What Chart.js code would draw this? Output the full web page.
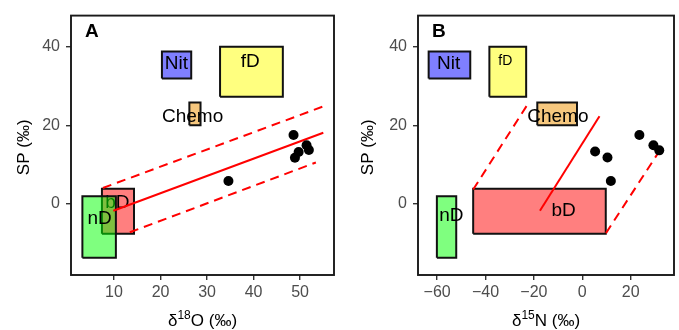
<!DOCTYPE html>
<html>
<head>
<meta charset="utf-8">
<script src="https://cdn.jsdelivr.net/npm/chart.js@4.4.1/dist/chart.umd.min.js"></script>
<style>
  html, body { margin: 0; padding: 0; background: #fff; overflow: hidden; }
  #wrapA { position: absolute; left: 0; top: 0; width: 340px; height: 330px; }
  #wrapB { position: absolute; left: 340px; top: 0; width: 339px; height: 330px; }
</style>
</head>
<body>
<div id="wrapA"><canvas id="chartA" width="340" height="330"></canvas></div>
<div id="wrapB"><canvas id="chartB" width="339" height="330"></canvas></div>
<script>
// Source boxes (same SP range in both panels)
const sources = ['Nit', 'fD', 'Chemo', 'bD', 'nD'];
const spMin = [31.9, 27.3, 20.0, -7.7, -13.8];
const spMax = [38.8, 40.0, 25.8, 3.8, 1.9];
const o18Min = [20.3, 32.8, 26.2, 7.4, 3.2];
const o18Max = [26.6, 46.3, 28.6, 14.3, 10.4];
const n15Min = [-63.5, -38.4, -18.6, -45.1, -60.1];
const n15Max = [-46.3, -23.2, -2.2, 9.7, -52.1];

// Label anchor points
const labelA_x = [23.4, 39.3, 26.9, 10.7, 6.9];
const labelA_y = [36.0, 36.5, 22.6, 0.7, -3.4];
const labelB_x = [-55.2, -31.8, -10.1, -7.7, -54.1];
const labelB_y = [36.2, 36.7, 22.6, -1.4, -2.8];

// Samples
const sampleA_x = [34.6, 48.6, 48.9, 49.7, 51.4, 51.9];
const sampleA_y = [5.8, 17.5, 11.7, 13.2, 14.9, 13.7];
const sampleB_x = [5.3, 10.4, 11.8, 23.6, 29.4, 31.8];
const sampleB_y = [13.3, 11.8, 5.8, 17.5, 14.9, 13.6];

// Fit lines [x0, y0, x1, y1]
const fitA = [9.85, -1.8, 55.0, 18.1];
const upperA = [7.6, 4.0, 55.0, 24.8];
const lowerA = [13.4, -7.3, 53.4, 10.5];
const fitB = [-17.5, -1.8, 7.1, 22.3];
const upperB = [-45.1, 3.6, -22.1, 25.8];
const lowerB = [9.8, -7.5, 32.8, 14.3];

// Ticks
const ticksA_x = [10, 20, 30, 40, 50];
const ticksB_x = [-60, -40, -20, 0, 20];
const ticksY = [0, 20, 40];

const boxColors = ['rgba(0,0,255,0.5)', 'rgba(255,255,0,0.5)', 'rgba(240,155,20,0.55)', 'rgba(255,0,0,0.5)', 'rgba(0,255,0,0.5)'];
const labelSizes = { A: [19, 19, 19, 19, 19], B: [19, 14, 19, 19, 19] };
const FONT = "'Liberation Sans', Arial, sans-serif";

function rect(x0, x1, y0, y1) {
    return [{x: x0, y: y0}, {x: x1, y: y0}, {x: x1, y: y1}, {x: x0, y: y1}, {x: x0, y: y0}];
}

function seg(s) {
    return [{x: s[0], y: s[1]}, {x: s[2], y: s[3]}];
}

function buildDatasets(xMin, xMax, lx, ly, sizes, sx, sy, fit, upper, lower) {
    const ds = [];
    sources.forEach((name, i) => {
        ds.push({
            type: 'line',
            data: rect(xMin[i], xMax[i], spMin[i], spMax[i]),
            borderColor: '#111',
            borderWidth: 2,
            backgroundColor: boxColors[i],
            fill: 'shape',
            pointRadius: 0,
            tension: 0,
            order: 8 - i,
            boxLabel: name,
            labelX: lx[i],
            labelY: ly[i],
            labelSize: sizes[i]
        });
    });
    [upper, lower].forEach((s, k) => {
        ds.push({
            type: 'line',
            data: seg(s),
            borderColor: '#ff0000',
            borderWidth: 2,
            borderDash: [9, 6],
            pointRadius: 0,
            fill: false,
            order: 3 - k
        });
    });
    ds.push({
        type: 'line',
        data: seg(fit),
        borderColor: '#ff0000',
        borderWidth: 2,
        pointRadius: 0,
        fill: false,
        order: 1
    });
    ds.push({
        type: 'scatter',
        data: sx.map((x, i) => ({x: x, y: sy[i]})),
        backgroundColor: '#000',
        borderWidth: 0,
        pointRadius: 5,
        order: 0
    });
    return ds;
}

const panelPlugin = {
    id: 'panelPlugin',
    afterDatasetDraw(chart, args) {
        const d = chart.data.datasets[args.index];
        if (!d.boxLabel) return;
        const ctx = chart.ctx;
        const px = chart.scales.x.getPixelForValue(d.labelX);
        const py = chart.scales.y.getPixelForValue(d.labelY);
        ctx.save();
        ctx.font = d.labelSize + 'px ' + FONT;
        ctx.fillStyle = '#000';
        ctx.textAlign = 'center';
        ctx.textBaseline = 'alphabetic';
        ctx.fillText(d.boxLabel, px, py + d.labelSize * 0.36);
        ctx.restore();
    },
    afterDraw(chart) {
        const o = chart.options.plugins.panelPlugin;
        const a = chart.chartArea;
        const ctx = chart.ctx;
        ctx.save();
        // panel border
        ctx.strokeStyle = '#1a1a1a';
        ctx.lineWidth = 1.9;
        ctx.strokeRect(a.left, a.top, a.right - a.left, a.bottom - a.top);
        // panel tag
        ctx.fillStyle = '#000';
        ctx.font = 'bold 19px ' + FONT;
        ctx.textAlign = 'left';
        ctx.textBaseline = 'alphabetic';
        ctx.fillText(o.tag, a.left + 14, a.top + 21);
        // y title
        ctx.font = '17px ' + FONT;
        ctx.save();
        ctx.translate(o.yTitleX, (a.top + a.bottom) / 2 + 2);
        ctx.rotate(-Math.PI / 2);
        ctx.textAlign = 'center';
        ctx.textBaseline = 'middle';
        ctx.fillText('SP (‰)', 0, 0);
        ctx.restore();
        // x title with superscript
        const big = '17px ' + FONT, small = '12px ' + FONT;
        ctx.font = big;
        const w1 = ctx.measureText('δ').width;
        const w3 = ctx.measureText(o.xRest).width;
        ctx.font = small;
        const w2 = ctx.measureText(o.xSup).width;
        let x = (a.left + a.right) / 2 - (w1 + w2 + w3) / 2;
        const base = 326;
        ctx.textAlign = 'left';
        ctx.font = big;
        ctx.fillText('δ', x, base);
        x += w1;
        ctx.font = small;
        ctx.fillText(o.xSup, x, base - 7);
        x += w2;
        ctx.font = big;
        ctx.fillText(o.xRest, x, base);
        ctx.restore();
    }
};

function makeChart(id, cfg) {
    return new Chart(document.getElementById(id).getContext('2d'), {
        type: 'scatter',
        data: { datasets: cfg.datasets },
        options: {
            responsive: false,
            devicePixelRatio: 1,
            animation: false,
            events: [],
            layout: { padding: { left: 0, right: cfg.padRight, top: 12, bottom: 0 } },
            plugins: {
                legend: { display: false },
                tooltip: { enabled: false },
                panelPlugin: cfg.panel
            },
            scales: {
                x: {
                    type: 'linear',
                    min: cfg.xMin,
                    max: cfg.xMax,
                    afterBuildTicks: (s) => { s.ticks = cfg.xTicks.map(v => ({value: v})); },
                    afterFit: (s) => { s.height = 55; },
                    grid: { display: true, drawOnChartArea: false, drawTicks: true, tickLength: 5, color: '#333', lineWidth: 1.4 },
                    border: { display: false },
                    ticks: {
                        padding: 3,
                        color: '#4d4d4d',
                        font: { family: FONT, size: 16 },
                        callback: (v) => String(v).replace('-', '\u2212')
                    }
                },
                y: {
                    type: 'linear',
                    min: -18.19,
                    max: 47.97,
                    afterBuildTicks: (s) => { s.ticks = ticksY.map(v => ({value: v})); },
                    afterFit: (s) => { s.width = cfg.yWidth; },
                    grid: { display: true, drawOnChartArea: false, drawTicks: true, tickLength: 5, color: '#333', lineWidth: 1.4 },
                    border: { display: false },
                    ticks: {
                        padding: 6,
                        color: '#4d4d4d',
                        font: { family: FONT, size: 16 }
                    }
                }
            }
        },
        plugins: [panelPlugin]
    });
}

makeChart('chartA', {
    datasets: buildDatasets(o18Min, o18Max, labelA_x, labelA_y, labelSizes.A, sampleA_x, sampleA_y, fitA, upperA, lowerA),
    xMin: 0.75, xMax: 57.3, xTicks: ticksA_x,
    yWidth: 71, padRight: 6,
    panel: { tag: 'A', yTitleX: 24, xSup: '18', xRest: 'O (‰)' }
});

makeChart('chartB', {
    datasets: buildDatasets(n15Min, n15Max, labelB_x, labelB_y, labelSizes.B, sampleB_x, sampleB_y, fitB, upperB, lowerB),
    xMin: -67.9, xMax: 37.9, xTicks: ticksB_x,
    yWidth: 78, padRight: 1,
    panel: { tag: 'B', yTitleX: 28, xSup: '15', xRest: 'N (‰)' }
});
</script>
</body>
</html>
